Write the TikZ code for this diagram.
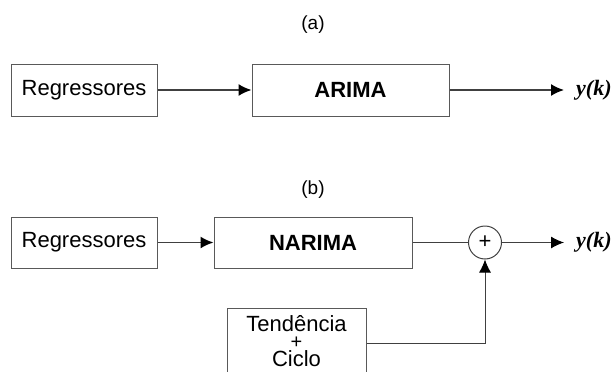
\documentclass[tikz,border=0pt]{standalone}
\usepackage{fontspec}
\setmainfont{Liberation Sans}
\newfontfamily\serifout{Liberation Serif}
\usetikzlibrary{arrows.meta}

\begin{document}
\begin{tikzpicture}[
    x=1pt, y=-1pt,
    >={Latex[length=13pt,width=12pt,color=black]},
    blk/.style={draw=black!65, line width=1pt, inner sep=0pt,
                minimum height=52pt, align=center,
                font=\fontsize{22}{17.5}\selectfont},
    soma/.style={circle, draw=black!75, line width=1pt, inner sep=0pt,
                 minimum size=33pt, font=\fontsize{22}{22}\selectfont},
    saida/.style={anchor=west, inner sep=0pt,
                  font=\serifout\bfseries\itshape\fontsize{22}{22}\selectfont},
    rotulo/.style={font=\fontsize{19}{19}\selectfont},
    fio/.style={->, draw=black!75, line width=1.6pt},
    fino/.style={draw=black!75, line width=1pt},
  ]
\useasboundingbox (0,0) rectangle (613,372);

% (a) modelo linear
\node[rotulo] (la) at (313,25) {(a)};
\node[blk, minimum width=146pt] (regA)  at (84,90)    {Regressores};
\node[blk, minimum width=197pt] (arima) at (350.5,90) {\textbf{ARIMA}};
\node[saida] (ya) at (576,90) {y(k)};
\draw[fio] (regA) -- (arima);
\draw[fio] (arima) -- ([xshift=-12pt]ya.west);

% (b) modelo hibrido
\node[rotulo] (lb) at (313,190) {(b)};
\node[blk, minimum width=146pt, minimum height=51pt] (regB) at (84,242.5) {Regressores};
\node[blk, minimum width=198pt, minimum height=51pt] (narima) at (313,242.5) {\textbf{NARIMA}};
\node[soma] (sum) at (485,242.5) {+};
\node[saida] (yb) at (576,242.5) {y(k)};
\node[blk, minimum width=139pt, minimum height=66pt] (tend) at (296.5,341)
  {Tendência\\{\fontsize{20}{17.5}\selectfont +}\\Ciclo};
\draw[fio] (regB) -- (narima);
\draw[fino] (narima) -- (sum);
\draw[fino, ->] (sum) -- ([xshift=-12pt]yb.west);
\draw[fino, ->] (tend.east |- 0,343) -| (sum);
\end{tikzpicture}
\end{document}
